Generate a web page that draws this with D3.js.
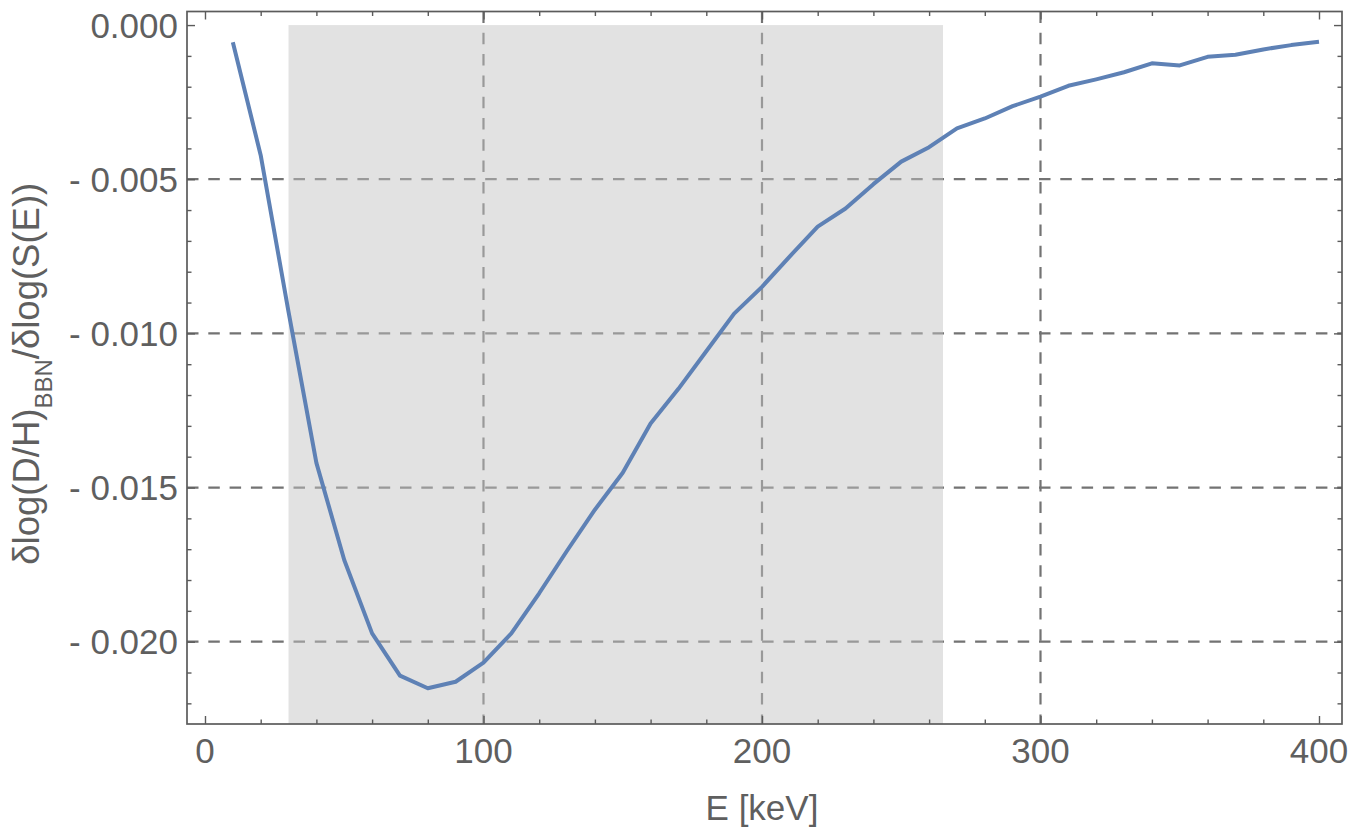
<!DOCTYPE html>
<html>
<head>
<meta charset="utf-8">
<script src="https://cdn.jsdelivr.net/npm/d3@7"></script>
<style>
  html, body { margin: 0; padding: 0; background: #fff; }
  svg { display: block; }
  text { font-family: "Liberation Sans", Arial, Helvetica, sans-serif; fill: #5f5f5f; }
</style>
</head>
<body>
<svg id="chart" width="1367" height="829"></svg>
<script>
// ---- data ----
const energies = [10,20,30,40,50,60,70,80,90,100,110,120,130,140,150,160,170,180,190,200,
                  210,220,230,240,250,260,270,280,290,300,310,320,330,340,350,360,370,380,390,400];
const sensitivity = [-0.00056,-0.00422,-0.00930,-0.01420,-0.01735,-0.01973,-0.02110,-0.02151,-0.02130,-0.02068,
                     -0.01973,-0.01843,-0.01705,-0.01572,-0.01452,-0.01292,-0.01180,-0.01058,-0.00936,-0.00849,
                     -0.00750,-0.00654,-0.00595,-0.00516,-0.00443,-0.00396,-0.00335,-0.00303,-0.00263,-0.00232,
                     -0.00197,-0.00176,-0.00153,-0.00124,-0.00131,-0.00103,-0.00096,-0.00079,-0.00065,-0.00054];
const shadeRange = [30, 265];
const xMajorTicks = [0, 100, 200, 300, 400];
const xGrid = [100, 200, 300];
const yMajorTicks = [0, -0.005, -0.010, -0.015, -0.020];
const yTickLabels = ["0.000", "- 0.005", "- 0.010", "- 0.015", "- 0.020"];
const yGrid = [-0.005, -0.010, -0.015, -0.020];
const xDomain = [-6.46, 408.26];
const yDomain = [0.00044, -0.02267];

// ---- layout ----
const frame = {left: 187, right: 1342, top: 11.5, bottom: 724};
const svg = d3.select("#chart");
const x = d3.scaleLinear().domain(xDomain).range([frame.left, frame.right]);
const y = d3.scaleLinear().domain(yDomain).range([frame.top, frame.bottom]);

const xMinor = d3.range(0, 401, 20).filter(v => v % 100 !== 0);
const yMinor = d3.range(0, 23).map(i => -i * 0.001).filter(v => Math.round(v * 1000) % 5 !== 0 && v >= yDomain[1]);

// grid lines
const grid = svg.append("g").attr("stroke", "#737373").attr("stroke-width", 2.2).attr("stroke-dasharray", "11.5,9.8");
grid.selectAll("line.gx").data(xGrid).join("line")
  .attr("x1", d => x(d)).attr("x2", d => x(d)).attr("y1", frame.top).attr("y2", frame.bottom);
grid.selectAll("line.gy").data(yGrid).join("line")
  .attr("x1", frame.left).attr("x2", frame.right).attr("y1", d => y(d)).attr("y2", d => y(d));

// shaded band (semi transparent, over the grid)
svg.append("rect")
  .attr("x", x(shadeRange[0])).attr("width", x(shadeRange[1]) - x(shadeRange[0]))
  .attr("y", y(0)).attr("height", frame.bottom - y(0))
  .attr("fill", "#c3c3c3").attr("fill-opacity", 0.48);

// data line
const line = d3.line().x((d, i) => x(energies[i])).y(d => y(d));
svg.append("path").datum(sensitivity)
  .attr("d", line).attr("fill", "none")
  .attr("stroke", "#5E81B5").attr("stroke-width", 4)
  .attr("stroke-linejoin", "round");

// axes (ticks inside the frame, on all four sides)
const axisColor = "#5b5b5b";
function styleAxis(g) {
  g.select(".domain").remove();
  g.selectAll(".tick line").attr("stroke", axisColor).attr("stroke-width", 1.4);
  g.selectAll("text").remove();
}
svg.append("g").attr("transform", `translate(0,${frame.bottom})`)
  .call(d3.axisBottom(x).tickValues(xMajorTicks).tickSizeInner(-8).tickSizeOuter(0)).call(styleAxis);
svg.append("g").attr("transform", `translate(0,${frame.bottom})`)
  .call(d3.axisBottom(x).tickValues(xMinor).tickSizeInner(-4.5).tickSizeOuter(0)).call(styleAxis);
svg.append("g").attr("transform", `translate(0,${frame.top})`)
  .call(d3.axisTop(x).tickValues(xMajorTicks).tickSizeInner(-8).tickSizeOuter(0)).call(styleAxis);
svg.append("g").attr("transform", `translate(0,${frame.top})`)
  .call(d3.axisTop(x).tickValues(xMinor).tickSizeInner(-4.5).tickSizeOuter(0)).call(styleAxis);
svg.append("g").attr("transform", `translate(${frame.left},0)`)
  .call(d3.axisLeft(y).tickValues(yMajorTicks).tickSizeInner(-8).tickSizeOuter(0)).call(styleAxis);
svg.append("g").attr("transform", `translate(${frame.left},0)`)
  .call(d3.axisLeft(y).tickValues(yMinor).tickSizeInner(-4.5).tickSizeOuter(0)).call(styleAxis);
svg.append("g").attr("transform", `translate(${frame.right},0)`)
  .call(d3.axisRight(y).tickValues(yMajorTicks).tickSizeInner(-8).tickSizeOuter(0)).call(styleAxis);
svg.append("g").attr("transform", `translate(${frame.right},0)`)
  .call(d3.axisRight(y).tickValues(yMinor).tickSizeInner(-4.5).tickSizeOuter(0)).call(styleAxis);

// frame
svg.append("rect")
  .attr("x", frame.left).attr("y", frame.top)
  .attr("width", frame.right - frame.left).attr("height", frame.bottom - frame.top)
  .attr("fill", "none").attr("stroke", axisColor).attr("stroke-width", 1.7);

// tick labels
const fs = 35;
svg.append("g").selectAll("text").data(xMajorTicks).join("text")
  .attr("x", d => x(d)).attr("y", 763)
  .attr("text-anchor", "middle").attr("font-size", fs)
  .text(d => d);
svg.append("g").selectAll("text").data(yMajorTicks).join("text")
  .attr("x", 178).attr("y", d => y(d) + 12.5)
  .attr("text-anchor", "end").attr("font-size", fs)
  .text((d, i) => yTickLabels[i]);

// axis labels
svg.append("text").attr("x", x(200)).attr("y", 820)
  .attr("text-anchor", "middle").attr("font-size", fs).text("E [keV]");

const yl = svg.append("text")
  .attr("transform", `translate(39,${(frame.top + frame.bottom) / 2 + 6}) rotate(-90)`)
  .attr("text-anchor", "middle").attr("font-size", 36.5);
yl.append("tspan").text("δlog(D/H)");
yl.append("tspan").attr("font-size", 24).attr("dy", 12.5).text("BBN");
yl.append("tspan").attr("dy", -12.5).text("/δlog(S(E))");
</script>
</body>
</html>
